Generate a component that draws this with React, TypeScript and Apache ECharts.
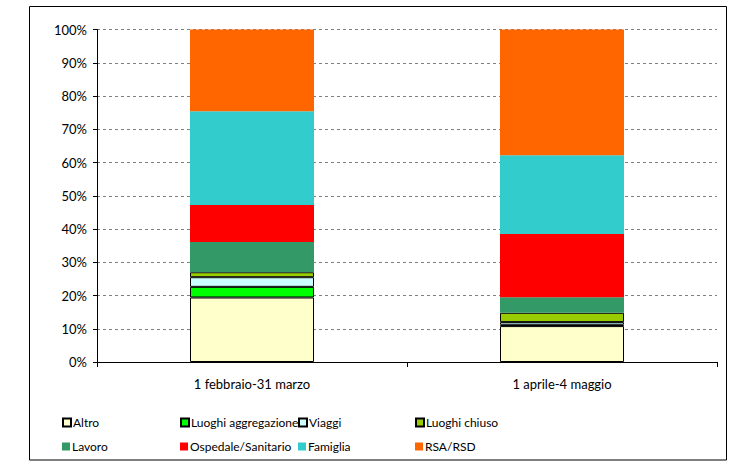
import React, { useEffect, useRef } from "react";
import * as echarts from "echarts";

const categories = ["1 febbraio-31 marzo", "1 aprile-4 maggio"];
const seriesNames = [
  "Altro",
  "Luoghi aggregazione",
  "Viaggi",
  "Luoghi chiuso",
  "Lavoro",
  "Ospedale/Sanitario",
  "Famiglia",
  "RSA/RSD",
];
const altro = [19.4, 10.8];
const luoghiAggregazione = [3.2, 0.4];
const viaggi = [2.9, 0.8];
const luoghiChiuso = [1.5, 2.8];
const lavoro = [9.1, 4.7];
const ospedale = [11.1, 19.0];
const famiglia = [28.2, 23.7];
const rsa = [24.6, 37.8];
const seriesValues = [altro, luoghiAggregazione, viaggi, luoghiChiuso, lavoro, ospedale, famiglia, rsa];
const colors = ["#FFFFCC", "#00FF00", "#CCFFFF", "#99CC00", "#339966", "#FF0000", "#33CCCC", "#FF6600"];
const bordered = [true, true, true, true, false, false, false, false];

const FONT = "Lato, sans-serif";

const legendPos = [
  [62, 416.5], [180, 416.5], [298, 416.5], [415, 416.5],
  [62, 440.5], [180, 440.5], [298, 440.5], [415, 440.5],
];

export default function App() {
  const ref = useRef<HTMLDivElement>(null);
  useEffect(() => {
    if (!ref.current) return;
    const chart = echarts.init(ref.current, undefined, { renderer: "svg" });
    const option: any = {
      animation: false,
      backgroundColor: "#ffffff",
      grid: { left: 97, right: 31, top: 29.5, bottom: 111, containLabel: false },
      xAxis: {
        type: "category",
        data: categories,
        axisLine: { lineStyle: { color: "#000", width: 1 } },
        axisTick: { show: true, length: 5, lineStyle: { color: "#000" } },
        axisLabel: { color: "#000", fontFamily: FONT, fontSize: 13, margin: 15 },
      },
      yAxis: {
        type: "value",
        min: 0,
        max: 100,
        interval: 10,
        axisLine: { show: true, lineStyle: { color: "#000", width: 1 } },
        axisTick: { show: true, length: 4, lineStyle: { color: "#000" } },
        axisLabel: { color: "#000", fontFamily: FONT, fontSize: 13, margin: 10, formatter: "{value}%" },
        splitLine: { lineStyle: { color: "#808080", type: [3, 3], width: 1 } },
      },
      legend: seriesNames.map((n, i) => ({
        data: [n],
        left: legendPos[i][0],
        top: legendPos[i][1],
        padding: 0,
        itemWidth: 8,
        itemHeight: 8,
        icon: "rect",
        selectedMode: false,
        textStyle: { color: "#000", fontFamily: FONT, fontSize: 12, padding: [0, 0, 0, -3] },
      })),
      graphic: [
        {
          type: "rect",
          shape: { x: 29.5, y: 6.5, width: 697, height: 453.5 },
          style: { fill: "none", stroke: "#000", lineWidth: 1 },
          silent: true,
        },
      ],
      series: seriesNames.map((n, i) => ({
        name: n,
        type: "bar",
        stack: "total",
        barWidth: "40%",
        data: seriesValues[i],
        itemStyle: {
          color: colors[i],
          borderColor: bordered[i] ? "#000" : colors[i],
          borderWidth: bordered[i] ? 1 : 0,
        },
      })),
    };
    chart.setOption(option);
    return () => chart.dispose();
  }, []);
  return (
    <div
      ref={ref}
      style={{ position: "fixed", left: 0, top: 0, width: 748, height: 473, background: "#fff" }}
    />
  );
}
